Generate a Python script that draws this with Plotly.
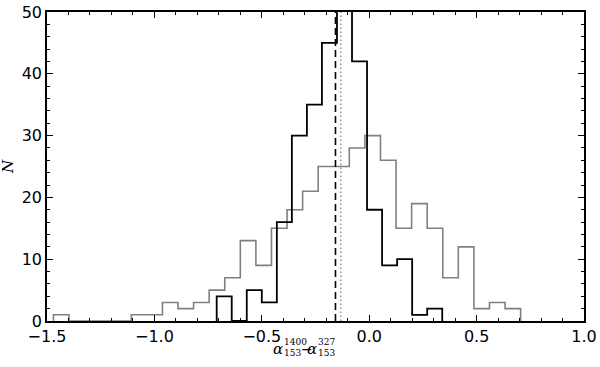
import plotly.graph_objects as go

# gray histogram (30 bins)
gray_edges = [-1.47, -1.3975, -1.325, -1.2525, -1.18, -1.1075, -1.035, -0.9625, -0.89, -0.8175,
              -0.745, -0.6725, -0.60, -0.5275, -0.455, -0.3825, -0.31, -0.2375, -0.165, -0.0925,
              -0.02, 0.0525, 0.125, 0.1975, 0.27, 0.3425, 0.415, 0.4875, 0.56, 0.6325, 0.705]
gray_counts = [1, 0, 0, 0, 0, 1, 1, 3, 2, 3,
               5, 7, 13, 9, 15, 18, 21, 25, 25, 28,
               30, 26, 15, 19, 15, 7, 12, 2, 3, 2]

# black histogram (15 bins), central bin runs off the top of the plot
black_edges = [-0.71, -0.64, -0.57, -0.50, -0.43, -0.36, -0.29, -0.22, -0.15, -0.08,
               -0.01, 0.06, 0.13, 0.20, 0.27, 0.34]
black_counts = [4, 0, 5, 3, 16, 30, 35, 45, 88, 42, 18, 9, 10, 1, 2]

black_median = -0.157
gray_median = -0.132


def step_trace(edges, counts, color, width):
    # outline like matplotlib histtype='step'
    xs = [edges[0]] + list(edges)
    ys = [0] + list(counts) + [0]
    return go.Scatter(x=xs, y=ys, mode='lines', line=dict(color=color, width=width, shape='hv'),
                      showlegend=False, hoverinfo='skip')


fig = go.Figure()
fig.add_trace(step_trace(gray_edges, gray_counts, '#808080', 1.6))
fig.add_trace(step_trace(black_edges, black_counts, 'black', 1.8))
fig.add_vline(x=black_median, line=dict(color='black', width=1.6, dash='7px,4px'))
fig.add_vline(x=gray_median, line=dict(color='#909090', width=1.5, dash='1.5px,2.5px'))

tickfont = dict(family='DejaVu Sans', size=16, color='black')
fig.update_xaxes(range=[-1.5, 1.0], dtick=0.5, tick0=0, tickformat='.1f', ticks='inside', ticklen=6,
                 tickwidth=1, tickcolor='black', showline=True, linecolor='black', linewidth=1.5,
                 mirror='ticks', showgrid=False, zeroline=False, tickfont=tickfont, automargin=False,
                 minor=dict(ticks='inside', dtick=0.1, ticklen=3, tickcolor='black', tickwidth=1))
fig.update_yaxes(range=[0, 50], dtick=10, ticks='inside', ticklen=6, tickwidth=1, tickcolor='black',
                 showline=True, linecolor='black', linewidth=1.5, mirror='ticks', showgrid=False,
                 zeroline=False, tickfont=tickfont, automargin=False,
                 minor=dict(ticks='inside', dtick=2, ticklen=3, tickcolor='black', tickwidth=1))

# axis labels as annotations (stacked sub/superscripts)
L, R, T, B = 47, 584, 12, 321


def px(x):
    return (x - L) / (R - L)


def py(y):
    return (B - y) / (B - T)


serif = 'DejaVu Serif'
ann = [
    dict(text='<i>α</i>', x=px(272), y=py(349), size=15),
    dict(text='1400', x=px(282.5), y=py(342.5), size=9),
    dict(text='153', x=px(282.5), y=py(352.5), size=9),
    dict(text='−', x=px(299.5), y=py(349), size=14),
    dict(text='<i>α</i>', x=px(306), y=py(349), size=15),
    dict(text='327', x=px(316.5), y=py(342.5), size=9),
    dict(text='153', x=px(316.5), y=py(352.5), size=9),
]
for a in ann:
    fig.add_annotation(text=a['text'], x=a['x'], y=a['y'], xref='paper', yref='paper',
                       xanchor='left', yanchor='middle', showarrow=False, borderpad=0,
                       font=dict(family=serif, size=a['size'], color='black'))
fig.add_annotation(text='<i>N</i>', x=px(7.5), y=py(166.5), xref='paper', yref='paper',
                   xanchor='center', yanchor='middle', showarrow=False, textangle=-90,
                   font=dict(family=serif, size=15, color='black'))

fig.update_layout(width=600, height=367, margin=dict(l=L, r=600 - R, t=T, b=367 - B),
                  plot_bgcolor='white', paper_bgcolor='white', showlegend=False)
fig.write_html("out.html", config={'displayModeBar': False},
               post_script="document.body.style.margin = '0px';")
